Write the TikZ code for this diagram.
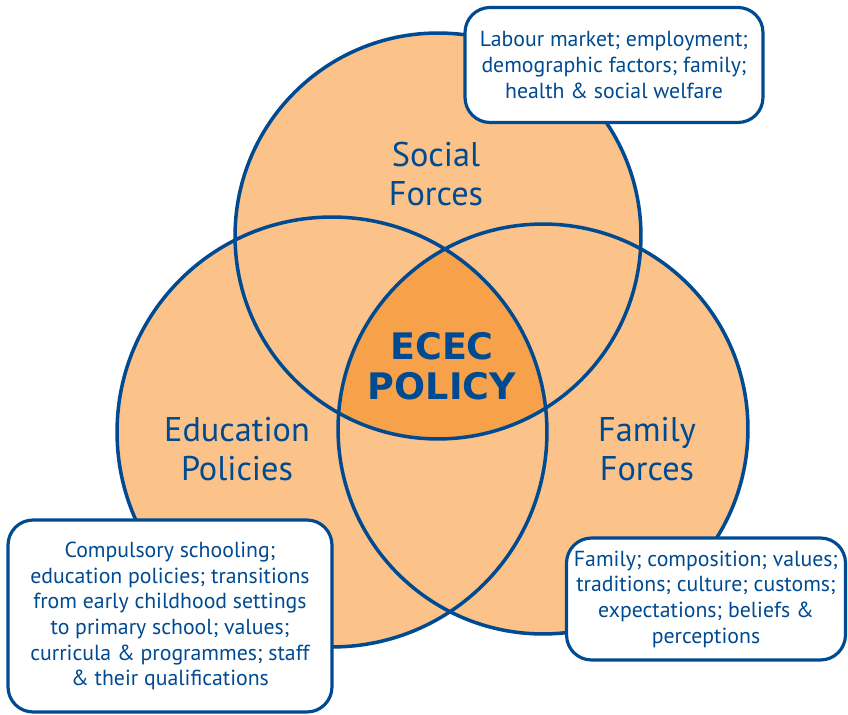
\documentclass[tikz,border=0pt]{standalone}
\usepackage{fontspec}
\setmainfont{PT Sans}
\newfontfamily\ececfont{DejaVu Sans}
\usetikzlibrary{positioning}

\definecolor{ecblue}{RGB}{0,74,145}
\definecolor{eclight}{RGB}{251,194,138}
\definecolor{ecdark}{RGB}{247,162,74}

\tikzset{
  ring/.style={draw=ecblue, line width=2pt},
  infobox/.style={draw=ecblue, line width=1.8pt, fill=white, rounded corners=0.5cm,
    align=center, text=ecblue, font=\fontsize{12.4}{14.6}\selectfont},
  forcelabel/.style={text=ecblue, align=center, font=\fontsize{19.5}{21.8}\selectfont},
}

\begin{document}
\begin{tikzpicture}[x=0.02cm, y=-0.02cm]
  \useasboundingbox (0,0) rectangle (848,715);
  \coordinate (soc) at (438,236);
  \coordinate (edu) at (332,432);
  \coordinate (fam) at (543,429);
  % the three forces
  \fill[eclight] (soc) circle (4.06cm);
  \fill[eclight] (edu) circle (4.3cm);
  \fill[eclight] (fam) circle (4.1cm);
  \begin{scope}
    \clip (soc) circle (4.06cm);
    \clip (edu) circle (4.3cm);
    \fill[ecdark] (fam) circle (4.1cm);
  \end{scope}
  \draw[ring] (soc) circle (4.06cm);
  \draw[ring] (edu) circle (4.3cm);
  \draw[ring] (fam) circle (4.1cm);
  \node[forcelabel] (soclabel) at (436,174) {Social\\Forces};
  \node[forcelabel] (edulabel) at (237,449) {Education\\Policies};
  \node[forcelabel] (famlabel) at (647,449) {Family\\Forces};
  \node[text=ecblue, align=center, font=\ececfont\bfseries\fontsize{20.8}{22.7}\selectfont] (ecec) at (442,366) {ECEC\\POLICY};
  % detail boxes
  \node[infobox, minimum width=5.96cm, minimum height=2.3cm] (socbox) at (614,65)
    {Labour market; employment;\\demographic factors; family;\\health \& social welfare};
  \node[infobox, minimum width=6.48cm, minimum height=3.84cm] (edubox) at (170,616)
    {Compulsory schooling;\\education policies; transitions\\from early childhood settings\\to primary school; values;\\curricula \& programmes; staff\\\& their qualifications};
  \node[infobox, minimum width=5.58cm, minimum height=2.44cm] (fambox) at (706,599)
    {Family; composition; values;\\traditions; culture; customs;\\expectations; beliefs \&\\perceptions};
\end{tikzpicture}
\end{document}
